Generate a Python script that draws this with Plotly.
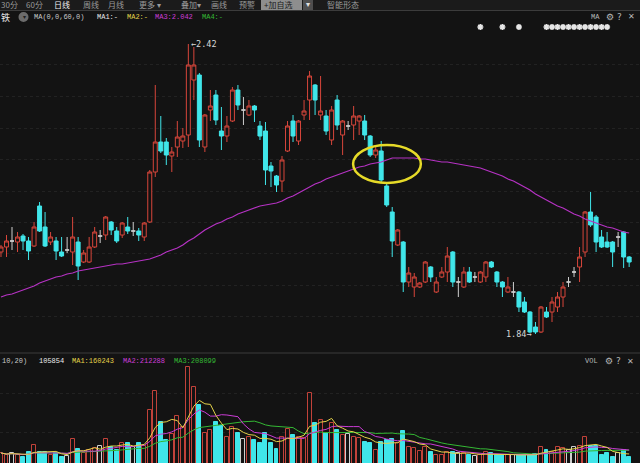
import plotly.graph_objects as go
import pandas as pd

W, H = 640, 463

# ---------------- data ----------------
OPEN = [2.004, 2.014, 2.026, 2.024, 2.036, 2.026, 2.016, 2.096, 2.054, 2.024,
        2.026, 2.004, 2.008, 2.004, 2.024, 1.984, 1.984, 2.014, 2.036, 2.038,
        2.064, 2.046, 2.038, 2.054, 2.046, 2.046, 2.034, 2.064, 2.164, 2.224,
        2.224, 2.196, 2.214, 2.226, 2.238, 2.348, 2.358, 2.214, 2.288, 2.318,
        2.246, 2.236, 2.266, 2.328, 2.288, 2.278, 2.296, 2.256, 2.246, 2.176,
        2.156, 2.146, 2.206, 2.266, 2.226, 2.278, 2.308, 2.338, 2.278, 2.276,
        2.228, 2.308, 2.238, 2.256, 2.258, 2.266, 2.266, 2.236, 2.198, 2.206,
        2.136, 2.084, 2.018, 2.024, 1.944, 1.934, 1.934, 1.944, 1.974, 1.924,
        1.954, 1.964, 2.004, 1.944, 1.934, 1.964, 1.954, 1.944, 1.954, 1.984,
        1.964, 1.944, 1.924, 1.924, 1.924, 1.904, 1.884, 1.854, 1.844, 1.884,
        1.884, 1.894, 1.914, 1.944, 1.964, 1.974, 2.004, 2.084, 2.074, 2.034,
        2.024, 2.024, 2.034, 2.044, 1.994]
HIGH = [2.018, 2.038, 2.054, 2.044, 2.040, 2.034, 2.064, 2.104, 2.084, 2.044,
        2.034, 2.034, 2.034, 2.074, 2.034, 2.008, 2.034, 2.054, 2.048, 2.076,
        2.066, 2.054, 2.064, 2.074, 2.064, 2.052, 2.064, 2.168, 2.338, 2.276,
        2.232, 2.214, 2.266, 2.252, 2.420, 2.414, 2.362, 2.280, 2.328, 2.328,
        2.294, 2.276, 2.334, 2.338, 2.314, 2.308, 2.298, 2.266, 2.264, 2.184,
        2.158, 2.196, 2.266, 2.278, 2.268, 2.308, 2.366, 2.340, 2.356, 2.288,
        2.296, 2.318, 2.268, 2.266, 2.296, 2.278, 2.278, 2.238, 2.218, 2.226,
        2.142, 2.094, 2.050, 2.026, 1.974, 1.962, 1.944, 1.986, 1.976, 1.954,
        1.974, 2.014, 2.006, 1.954, 1.974, 1.974, 1.964, 1.966, 1.986, 1.986,
        1.966, 1.946, 1.954, 1.944, 1.926, 1.914, 1.886, 1.864, 1.896, 1.894,
        1.914, 1.924, 1.944, 1.954, 1.974, 2.014, 2.086, 2.124, 2.078, 2.048,
        2.044, 2.026, 2.044, 2.046, 1.996]
LOW = [1.994, 1.994, 2.008, 2.004, 2.008, 1.988, 2.014, 2.044, 2.014, 2.018,
       1.988, 1.994, 2.002, 1.978, 1.948, 1.982, 1.982, 2.012, 2.022, 2.028,
       2.038, 2.022, 2.032, 2.040, 2.036, 2.026, 2.026, 2.062, 2.154, 2.202,
       2.178, 2.164, 2.194, 2.212, 2.214, 2.308, 2.214, 2.204, 2.266, 2.258,
       2.208, 2.224, 2.264, 2.288, 2.258, 2.276, 2.264, 2.228, 2.138, 2.134,
       2.124, 2.124, 2.204, 2.224, 2.218, 2.268, 2.268, 2.278, 2.268, 2.238,
       2.218, 2.248, 2.198, 2.248, 2.228, 2.238, 2.228, 2.194, 2.192, 2.142,
       2.094, 1.994, 2.016, 1.924, 1.934, 1.914, 1.932, 1.942, 1.944, 1.922,
       1.952, 1.944, 1.934, 1.914, 1.932, 1.942, 1.944, 1.942, 1.944, 1.972,
       1.934, 1.914, 1.922, 1.914, 1.884, 1.882, 1.842, 1.840, 1.842, 1.872,
       1.864, 1.884, 1.894, 1.934, 1.954, 1.944, 1.994, 2.054, 2.004, 2.012,
       2.012, 1.974, 2.014, 1.972, 1.974]
CLOSE = [2.014, 2.026, 2.026, 2.034, 2.026, 2.006, 2.054, 2.046, 2.016, 2.034,
         2.006, 1.996, 2.008, 2.034, 1.976, 2.002, 2.014, 2.044, 2.036, 2.074,
         2.048, 2.026, 2.062, 2.046, 2.046, 2.038, 2.062, 2.164, 2.224, 2.206,
         2.198, 2.204, 2.234, 2.236, 2.378, 2.378, 2.228, 2.278, 2.296, 2.268,
         2.236, 2.256, 2.328, 2.298, 2.288, 2.296, 2.288, 2.236, 2.168, 2.166,
         2.138, 2.188, 2.256, 2.236, 2.266, 2.286, 2.356, 2.308, 2.286, 2.246,
         2.288, 2.258, 2.266, 2.256, 2.276, 2.276, 2.238, 2.198, 2.208, 2.148,
         2.098, 2.026, 2.048, 1.944, 1.962, 1.954, 1.942, 1.984, 1.954, 1.944,
         1.964, 1.996, 1.944, 1.944, 1.964, 1.944, 1.954, 1.964, 1.984, 1.974,
         1.944, 1.934, 1.934, 1.924, 1.894, 1.884, 1.844, 1.844, 1.894, 1.874,
         1.904, 1.914, 1.934, 1.944, 1.964, 1.994, 2.084, 2.058, 2.024, 2.014,
         2.014, 2.004, 2.034, 1.994, 1.984]
MA60 = [1.914, 1.918, 1.920, 1.924, 1.928, 1.932, 1.936, 1.942, 1.946, 1.950,
        1.954, 1.956, 1.960, 1.962, 1.966, 1.968, 1.970, 1.972, 1.974, 1.976,
        1.978, 1.980, 1.980, 1.982, 1.984, 1.986, 1.988, 1.990, 1.994, 1.998,
        2.004, 2.008, 2.012, 2.018, 2.026, 2.032, 2.040, 2.048, 2.054, 2.060,
        2.064, 2.070, 2.074, 2.080, 2.084, 2.088, 2.092, 2.096, 2.098, 2.100,
        2.102, 2.106, 2.112, 2.116, 2.122, 2.128, 2.134, 2.140, 2.144, 2.150,
        2.154, 2.158, 2.162, 2.166, 2.170, 2.174, 2.176, 2.180, 2.182, 2.184,
        2.188, 2.192, 2.192, 2.192, 2.192, 2.192, 2.190, 2.190, 2.188, 2.186,
        2.184, 2.184, 2.182, 2.180, 2.178, 2.176, 2.174, 2.172, 2.168, 2.164,
        2.160, 2.156, 2.150, 2.146, 2.140, 2.134, 2.128, 2.120, 2.114, 2.108,
        2.102, 2.096, 2.092, 2.086, 2.080, 2.076, 2.070, 2.066, 2.062, 2.058,
        2.054, 2.052, 2.048, 2.044, 2.042]
VOLUME = [145600, 124800, 145600, 124800, 104000, 156000, 228800, 156000, 156000, 124800,
          145600, 104000, 114400, 291200, 187200, 145600, 176800, 197600, 218400, 291200,
          208000, 176800, 249600, 249600, 208000, 249600, 218400, 592800, 790400, 468000,
          280800, 343200, 530400, 416000, 1040000, 832000, 644800, 353600, 384800, 468000,
          426400, 312000, 416000, 353600, 291200, 312000, 280800, 249600, 353600, 249600,
          187200, 312000, 395200, 332800, 312000, 301600, 769600, 457600, 488800, 353600,
          457600, 384800, 332800, 343200, 312000, 301600, 260000, 249600, 176800, 260000,
          280800, 291200, 249600, 374400, 208000, 197600, 166400, 208000, 156000, 124800,
          124800, 156000, 156000, 145600, 145600, 124800, 114400, 124800, 156000, 145600,
          124800, 124800, 124800, 124800, 124800, 124800, 124800, 135200, 208000, 176800,
          156000, 208000, 197600, 176800, 208000, 218400, 312000, 218400, 218400, 124800,
          145600, 104000, 145600, 176800, 105854]
EVENT_DAYS = [88, 92, 95, 100, 101, 102, 103, 104, 105, 106, 107, 108, 109, 110, 111]
ELLIPSE_DAYS = (64.9, 77.2)
ELLIPSE_PRICES = (2.142, 2.218)

DAYS = list(range(1, len(CLOSE) + 1))

# ---------------- styling ----------------
BG = "#131313"
RED = "#d8463b"
VRED = "#c2423a"
CYAN = "#40e6ea"
GRAY = "#cfcfcf"
MAG = "#b632c4"
YEL = "#e4d24a"
VMAG = "#cc3cd6"
GRN = "#34b834"
MONO = "Liberation Mono"
CJK = "Noto Sans CJK SC"

MAIN_TOP, MAIN_BOT = 22, 350
MAIN_RANGE = [1.808, 2.464]
VOL_TOP, VOL_BOT = 355, 463
VOL_RANGE = [41600, 1164800]
X_RANGE = [0.82, 116.97]


def pdom(top, bot):
    return [(H - bot) / H, (H - top) / H]


def price_at_px(y):
    return MAIN_RANGE[1] - (y - MAIN_TOP) / (MAIN_BOT - MAIN_TOP) * (MAIN_RANGE[1] - MAIN_RANGE[0])


fig = go.Figure()

up = [i for i in range(len(CLOSE)) if CLOSE[i] > OPEN[i]]
dn = [i for i in range(len(CLOSE)) if CLOSE[i] < OPEN[i]]
dj = [i for i in range(len(CLOSE)) if CLOSE[i] == OPEN[i]]


def sub(arr, idx):
    return [arr[i] for i in idx]


fig.add_trace(go.Candlestick(
    x=sub(DAYS, up + dn), open=sub(OPEN, up + dn), high=sub(HIGH, up + dn),
    low=sub(LOW, up + dn), close=sub(CLOSE, up + dn),
    increasing=dict(line=dict(color=RED, width=1), fillcolor=BG),
    decreasing=dict(line=dict(color=CYAN, width=1), fillcolor=CYAN),
    whiskerwidth=0, hoverinfo="skip", showlegend=False, xaxis="x", yaxis="y"))
fig.add_trace(go.Candlestick(
    x=sub(DAYS, dj), open=sub(OPEN, dj), high=sub(HIGH, dj),
    low=sub(LOW, dj), close=sub(CLOSE, dj),
    increasing=dict(line=dict(color=GRAY, width=1), fillcolor=GRAY),
    decreasing=dict(line=dict(color=GRAY, width=1), fillcolor=GRAY),
    whiskerwidth=0, hoverinfo="skip", showlegend=False, xaxis="x", yaxis="y"))

fig.add_trace(go.Scatter(x=DAYS, y=MA60, mode="lines", line=dict(color=MAG, width=1.2),
                         hoverinfo="skip", showlegend=False, xaxis="x", yaxis="y"))

# event markers
fig.add_trace(go.Scatter(x=EVENT_DAYS, y=[price_at_px(27)] * len(EVENT_DAYS), mode="markers",
                         marker=dict(symbol="asterisk-open", size=5, color="#e6e6e6",
                                     line=dict(color="#e6e6e6", width=1.6)),
                         cliponaxis=False, hoverinfo="skip", showlegend=False, xaxis="x", yaxis="y"))

# volume bars
vfill, vline = [], []
for o, c in zip(OPEN, CLOSE):
    if c > o:
        vfill.append(BG); vline.append(VRED)
    elif c < o:
        vfill.append(CYAN); vline.append(CYAN)
    else:
        vfill.append(BG); vline.append(GRAY)
fig.add_trace(go.Bar(x=DAYS, y=VOLUME, width=0.72,
                     marker=dict(color=vfill, line=dict(color=vline, width=1)),
                     hoverinfo="skip", showlegend=False, xaxis="x2", yaxis="y2"))

vs = pd.Series(VOLUME, dtype=float)
for n, col in [(20, GRN), (10, VMAG), (5, YEL)]:
    fig.add_trace(go.Scatter(x=DAYS, y=vs.rolling(n, min_periods=1).mean(), mode="lines",
                             line=dict(color=col, width=1), hoverinfo="skip",
                             showlegend=False, xaxis="x2", yaxis="y2"))

# ---------------- annotations ----------------
anns = []


def ann(x, y, text, color, size=7, family=MONO, xanchor="left", yanchor="middle", pad=1):
    anns.append(dict(x=x / W, y=1 - y / H, xref="paper", yref="paper", text=text,
                     showarrow=False, xanchor=xanchor, yanchor=yanchor, borderpad=pad,
                     font=dict(family=family, size=size, color=color)))


# toolbar row
TB_Y = 5
for x, t, c in [(0, "30分", "#9a9a9a"), (25, "60分", "#9a9a9a"), (53, "日线", "#f2f2f2"),
                (82, "周线", "#9a9a9a"), (107, "月线", "#9a9a9a"), (138, "更多 ▾", "#9a9a9a"),
                (180, "叠加▾", "#9a9a9a"), (210, "画线", "#9a9a9a"), (238, "预警", "#9a9a9a"),
                (326, "智能形态", "#9a9a9a")]:
    ann(x, TB_Y, t, c, size=8, family=CJK, pad=0)
ann(263, TB_Y, "+加自选", "#1a1a1a", size=8, family=CJK, pad=0)
ann(305, TB_Y, "▾", "#e0e0e0", size=8, family="DejaVu Sans", pad=0)

# indicator row
ann(0, 17.5, "铁", "#e8e8e8", size=9, family=CJK, pad=0)
ann(20.5, 17, "▾", "#202020", size=6, family="DejaVu Sans")
ann(32, 17, "MA(0,0,60,0)", "#c8c8c8")
ann(95, 17, "MA1:-", "#e8e8e8")
ann(125, 17, "MA2:-", YEL)
ann(153, 17, "MA3:2.042", VMAG)
ann(200, 17, "MA4:-", GRN)
ann(589, 17, "MA", "#b8b8b8")
ann(604, 17, "⚙", "#b8b8b8", size=9, family="DejaVu Sans")
ann(615, 17, "?", "#b8b8b8", size=9, family="DejaVu Sans")
ann(626, 17, "✕", "#b8b8b8", size=8, family="DejaVu Sans")

# volume header
ann(0, 361, "10,20)", "#c8c8c8")
ann(37, 361, "105854", "#ececec")
ann(70, 361, "MA1:160243", YEL)
ann(121, 361, "MA2:212288", VMAG)
ann(172, 361, "MA3:208099", GRN)
ann(583, 361, "VOL", "#b8b8b8")
ann(603, 361, "⚙", "#b8b8b8", size=9, family="DejaVu Sans")
ann(614, 361, "?", "#b8b8b8", size=9, family="DejaVu Sans")
ann(625, 361, "✕", "#b8b8b8", size=8, family="DejaVu Sans")

# high / low labels
imax = max(range(len(HIGH)), key=lambda i: HIGH[i])
imin = min(range(len(LOW)), key=lambda i: LOW[i])
anns.append(dict(x=DAYS[imax] + 0.2, y=HIGH[imax], xref="x", yref="y", text=f"←{HIGH[imax]:.2f}",
                 showarrow=False, xanchor="left", yanchor="middle",
                 font=dict(family="DejaVu Sans Mono", size=8.5, color="#d8d8d8")))
anns.append(dict(x=DAYS[imin] - 0.3, y=LOW[imin], xref="x", yref="y", text=f"{LOW[imin]:.2f}→",
                 showarrow=False, xanchor="right", yanchor="middle",
                 font=dict(family="DejaVu Sans Mono", size=8.5, color="#d8d8d8")))

shapes = [
    dict(type="rect", xref="paper", yref="paper", x0=0, x1=1, y0=1 - 10 / H, y1=1,
         fillcolor="#1b1b1b", line=dict(width=0), layer="below"),
    dict(type="rect", xref="paper", yref="paper", x0=261 / W, x1=302 / W, y0=1 - 10 / H, y1=1.01,
         fillcolor="#8e8e8e", line=dict(width=0), layer="below"),
    dict(type="rect", xref="paper", yref="paper", x0=303 / W, x1=313 / W, y0=1 - 10 / H, y1=1.01,
         fillcolor="#4e4e4e", line=dict(width=0), layer="below"),
    dict(type="line", xref="paper", yref="paper", x0=0, x1=1, y0=1 - 10.5 / H, y1=1 - 10.5 / H,
         line=dict(color="#3c3c3c", width=1)),
    dict(type="line", xref="paper", yref="paper", x0=0, x1=1, y0=1 - 353 / H, y1=1 - 353 / H,
         line=dict(color="#3c3c3c", width=1)),
    dict(type="circle", xref="paper", yref="paper", x0=18.5 / W, x1=28.5 / W,
         y0=1 - 22 / H, y1=1 - 12 / H, fillcolor="#6c6c6c", line=dict(width=0)),
    dict(type="circle", xref="x", yref="y", x0=ELLIPSE_DAYS[0], x1=ELLIPSE_DAYS[1],
         y0=ELLIPSE_PRICES[0], y1=ELLIPSE_PRICES[1], line=dict(color="#e6da28", width=2.5)),
]

MAIN_GRID = [price_at_px(y) for y in (64, 96, 128, 159, 191, 222, 253, 285, 316)]

fig.update_layout(
    width=W, height=H, margin=dict(l=0, r=0, t=0, b=0),
    paper_bgcolor=BG, plot_bgcolor=BG,
    boxgap=0.2, boxgroupgap=0.1, bargap=0,
    xaxis=dict(domain=[0, 1], range=X_RANGE, visible=False, rangeslider=dict(visible=False),
               anchor="y"),
    yaxis=dict(domain=pdom(MAIN_TOP, MAIN_BOT), range=MAIN_RANGE, showticklabels=False,
               tickvals=MAIN_GRID, showgrid=True, gridcolor="#222222", griddash="dot",
               zeroline=False, showline=False, ticks=""),
    xaxis2=dict(domain=[0, 1], range=X_RANGE, visible=False, matches="x", anchor="y2",
                rangeslider=dict(visible=False)),
    yaxis2=dict(domain=pdom(VOL_TOP, VOL_BOT), range=VOL_RANGE, showticklabels=False,
                tickvals=[364000, 769600], showgrid=True, gridcolor="#222222", griddash="dot",
                zeroline=False, showline=False, ticks=""),
    annotations=anns, shapes=shapes, showlegend=False,
)

fig.write_html("out.html", config={"displayModeBar": False},
               post_script="document.body.style.margin='0';document.body.style.padding='0';"
                           "document.documentElement.style.overflow='hidden';")
